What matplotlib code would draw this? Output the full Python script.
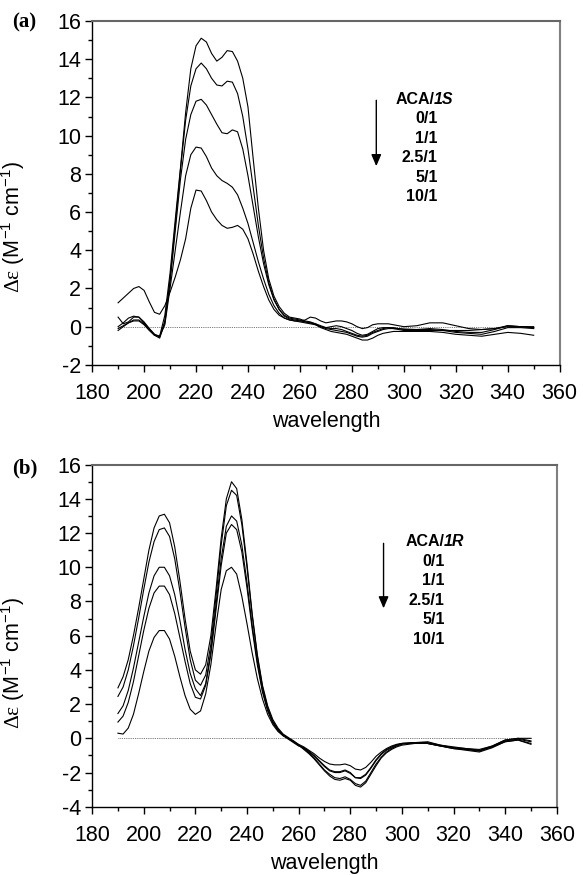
import matplotlib
matplotlib.use("Agg")
import matplotlib.pyplot as plt
from matplotlib.ticker import MultipleLocator

plt.rcParams['font.family'] = ['Liberation Sans', 'DejaVu Sans']
plt.rcParams['mathtext.fontset'] = 'custom'
plt.rcParams['mathtext.rm'] = 'Liberation Serif'
plt.rcParams['mathtext.sf'] = 'Liberation Sans'
plt.rcParams['axes.unicode_minus'] = False

DPI = 100

# ------ data ----------------------------------------------------------------

wavelength = [190, 192, 194, 196, 198, 200, 202, 204, 206, 208,
              210, 212, 214, 216, 218, 220, 222, 224, 226, 228,
              230, 232, 234, 236, 238, 240, 242, 244, 246, 248,
              250, 252, 254, 256, 258, 260, 262, 264, 266, 268,
              270, 272, 274, 276, 278, 280, 282, 284, 286, 288,
              290, 292, 294, 296, 298, 300,
              305, 310, 315, 320, 325, 330, 335, 340, 345, 350]

ratios = ['0/1', '1/1', '2.5/1', '5/1', '10/1']

# panel (a): ACA/1S
s_0 = [0.5, 0.15, 0.25, 0.5, 0.5, 0.2, -0.1, -0.4, -0.5, 0.6,
       2.8, 5.6, 8.3, 11.2, 13.5, 14.7, 15.1, 14.9, 14.3, 13.9,
       14.1, 14.45, 14.4, 13.9, 13.0, 11.5, 8.8, 6.2, 4.0, 2.5,
       1.6, 1.05, 0.7, 0.5, 0.45, 0.4, 0.3, 0.25, 0.15, 0.0,
       -0.1, -0.15, -0.2, -0.25, -0.3, -0.4, -0.5, -0.55, -0.5, -0.35,
       -0.25, -0.15, -0.1, -0.1, -0.1, -0.12,
       -0.15, -0.15, -0.2, -0.3, -0.35, -0.4, -0.25, -0.05, -0.05, -0.1]
s_1 = [0.0, 0.2, 0.45, 0.55, 0.5, 0.25, -0.1, -0.4, -0.55, 0.3,
       2.5, 5.3, 8.2, 10.8, 12.6, 13.5, 13.8, 13.5, 13.0, 12.65,
       12.6, 12.85, 12.8, 12.2, 11.0, 9.3, 7.3, 5.3, 3.6, 2.3,
       1.45, 0.9, 0.6, 0.45, 0.4, 0.35, 0.25, 0.2, 0.1, -0.05,
       -0.15, -0.25, -0.3, -0.35, -0.4, -0.5, -0.6, -0.7, -0.7, -0.6,
       -0.45, -0.35, -0.3, -0.25, -0.25, -0.25,
       -0.25, -0.25, -0.3, -0.4, -0.45, -0.5, -0.4, -0.3, -0.35, -0.45]
s_25 = [-0.2, 0.0, 0.2, 0.35, 0.35, 0.15, -0.15, -0.45, -0.6, 0.2,
        2.3, 5.0, 7.7, 9.8, 11.1, 11.8, 11.9, 11.6, 11.1, 10.6,
        10.15, 10.1, 10.3, 10.2, 9.3, 7.9, 6.3, 4.7, 3.3, 2.2,
        1.4, 0.9, 0.55, 0.4, 0.35, 0.3, 0.25, 0.2, 0.15, 0.05,
        -0.05, -0.1, -0.1, -0.15, -0.25, -0.35, -0.45, -0.5, -0.45, -0.3,
        -0.2, -0.1, -0.05, -0.05, -0.1, -0.15,
        -0.15, -0.1, -0.15, -0.25, -0.3, -0.3, -0.15, 0.05, 0.0, -0.05]
s_5 = [-0.1, 0.05, 0.2, 0.3, 0.3, 0.1, -0.2, -0.45, -0.5, 0.1,
       2.0, 4.0, 6.0, 7.9, 9.0, 9.4, 9.35, 8.9, 8.3, 7.9,
       7.65, 7.5, 7.3, 6.9, 6.2, 5.4, 4.4, 3.4, 2.5, 1.7,
       1.1, 0.7, 0.45, 0.35, 0.3, 0.25, 0.2, 0.15, 0.1, 0.0,
       -0.05, 0.0, 0.05, 0.0, -0.1, -0.2, -0.35, -0.45, -0.4, -0.25,
       -0.1, -0.05, -0.05, -0.1, -0.15, -0.2,
       -0.2, -0.2, -0.2, -0.2, -0.2, -0.15, -0.1, 0.0, 0.0, 0.0]
s_10 = [1.25, 1.5, 1.75, 2.0, 2.1, 1.9, 1.3, 0.75, 0.65, 1.1,
        1.8, 2.6, 3.5, 4.6, 6.2, 7.15, 7.1, 6.6, 6.0, 5.6,
        5.3, 5.15, 5.2, 5.3, 5.1, 4.6, 3.8, 2.9, 2.1, 1.4,
        0.9, 0.6, 0.45, 0.35, 0.3, 0.3, 0.35, 0.5, 0.45, 0.3,
        0.2, 0.25, 0.3, 0.3, 0.25, 0.15, 0.0, -0.1, -0.05, 0.1,
        0.15, 0.15, 0.15, 0.1, 0.05, 0.0,
        0.05, 0.2, 0.2, 0.05, -0.1, -0.15, -0.1, 0.05, 0.0, -0.05]

# panel (b): ACA/1R
r_0 = [2.95, 3.6, 4.6, 6.0, 7.6, 9.3, 11.0, 12.3, 13.0, 13.1,
       12.6, 11.2, 9.2, 7.0, 5.1, 4.0, 3.75, 4.3, 6.0, 8.7,
       11.7, 14.0, 15.0, 14.6, 12.8, 10.2, 7.3, 4.9, 3.1, 1.9,
       1.1, 0.6, 0.25, 0.05, -0.15, -0.4, -0.65, -0.9, -1.2, -1.55,
       -1.9, -2.2, -2.4, -2.45, -2.35, -2.45, -2.75, -2.85, -2.6, -2.1,
       -1.6, -1.15, -0.85, -0.65, -0.5, -0.4,
       -0.3, -0.3, -0.45, -0.6, -0.7, -0.8, -0.55, -0.2, -0.1, -0.3]
r_1 = [2.45, 3.0, 4.0, 5.4, 7.0, 8.7, 10.3, 11.5, 12.2, 12.3,
       11.8, 10.5, 8.6, 6.5, 4.6, 3.4, 3.1, 3.7, 5.5, 8.3,
       11.3, 13.6, 14.5, 14.2, 12.5, 10.0, 7.2, 4.8, 3.0, 1.8,
       1.0, 0.55, 0.2, 0.0, -0.2, -0.4, -0.6, -0.85, -1.15, -1.5,
       -1.85, -2.1, -2.3, -2.35, -2.25, -2.4, -2.65, -2.75, -2.5, -2.0,
       -1.5, -1.1, -0.8, -0.6, -0.45, -0.35,
       -0.25, -0.3, -0.45, -0.55, -0.65, -0.75, -0.5, -0.15, -0.05, -0.2]
r_25 = [1.45, 1.9, 2.8, 4.1, 5.6, 7.1, 8.5, 9.5, 10.0, 10.0,
        9.5, 8.4, 6.9, 5.2, 3.8, 2.9, 2.5, 3.2, 5.1, 7.8,
        10.5, 12.4, 13.0, 12.7, 11.3, 9.1, 6.6, 4.5, 2.8, 1.7,
        0.95, 0.5, 0.2, 0.0, -0.2, -0.4, -0.55, -0.75, -1.0, -1.3,
        -1.6, -1.85, -1.95, -1.95, -1.85, -2.0, -2.3, -2.35, -2.15, -1.75,
        -1.3, -0.95, -0.7, -0.55, -0.4, -0.3,
        -0.25, -0.25, -0.4, -0.55, -0.6, -0.7, -0.45, -0.1, 0.0, -0.15]
r_5 = [0.95, 1.3, 2.1, 3.3, 4.8, 6.3, 7.6, 8.5, 8.9, 8.9,
       8.4, 7.3, 5.9, 4.5, 3.2, 2.4, 2.3, 3.1, 4.9, 7.5,
       10.1, 12.0, 12.5, 12.2, 10.9, 8.8, 6.4, 4.3, 2.7, 1.6,
       0.9, 0.45, 0.15, -0.05, -0.25, -0.45, -0.55, -0.8, -1.05, -1.35,
       -1.65, -1.9, -2.0, -2.0, -1.9, -2.05, -2.3, -2.3, -2.1, -1.7,
       -1.25, -0.9, -0.65, -0.5, -0.38, -0.3,
       -0.28, -0.3, -0.45, -0.6, -0.65, -0.72, -0.5, -0.2, -0.1, -0.35]
r_10 = [0.3, 0.25, 0.6, 1.4, 2.6, 3.9, 5.1, 5.9, 6.3, 6.3,
        5.8, 4.8, 3.6, 2.5, 1.7, 1.4, 1.6, 2.6, 4.3, 6.6,
        8.7, 9.8, 10.0, 9.6, 8.3, 6.7, 5.0, 3.5, 2.3, 1.4,
        0.8, 0.4, 0.15, 0.0, -0.15, -0.35, -0.5, -0.7, -0.9, -1.15,
        -1.35, -1.5, -1.55, -1.55, -1.5, -1.6, -1.8, -1.85, -1.7, -1.4,
        -1.05, -0.8, -0.6, -0.45, -0.35, -0.3,
        -0.25, -0.2, -0.4, -0.5, -0.6, -0.65, -0.45, -0.1, 0.0, 0.0]

curves_s = [s_0, s_1, s_25, s_5, s_10]
curves_r = [r_0, r_1, r_25, r_5, r_10]


def style_axes(ax, ymin, ymax):
    ax.set_xlim(180, 360)
    ax.set_ylim(ymin, ymax)
    ax.xaxis.set_major_locator(MultipleLocator(20))
    ax.xaxis.set_minor_locator(MultipleLocator(10))
    ax.yaxis.set_major_locator(MultipleLocator(2))
    ax.yaxis.set_minor_locator(MultipleLocator(1))
    ax.tick_params(which='both', direction='out', top=False, right=False,
                   width=1.0, labelsize=15.5)
    ax.tick_params(axis='y', pad=3)
    ax.tick_params(axis='x', pad=8)
    ax.tick_params(which='major', length=5)
    ax.tick_params(which='minor', length=3)
    ax.spines['left'].set_linewidth(1.0)
    ax.spines['bottom'].set_linewidth(1.0)
    ax.spines['top'].set_color('0.4')
    ax.spines['right'].set_color('0.5')
    ax.spines['top'].set_linewidth(1.5)
    ax.spines['right'].set_linewidth(1.5)
    ax.set_xlabel("wavelength", fontsize=15.5, labelpad=5)
    ax.set_ylabel(r"$\mathrm{\Delta\varepsilon}$ (M$^{\mathsf{-1}}$ cm$^{\mathsf{-1}}$)",
                  fontsize=15.5)


def draw_panel(ax, curves, name, tx, ty, split_x, arrow_x, arrow_y0, arrow_y1, step):
    # dotted zero line
    ax.plot([190, 350], [0, 0], color='0.3', lw=0.6, linestyle=(0, (1, 1.2)))
    for c in curves:
        ax.plot(wavelength, c, color='k', lw=0.8)
    ax.text(split_x, ty, 'ACA/', ha='right', va='center',
            fontsize=11.5, fontweight='bold')
    ax.text(split_x, ty, name, ha='left', va='center',
            fontsize=11.5, fontweight='bold', style='italic')
    for i, lab in enumerate(ratios):
        ax.text(tx, ty - (i + 1) * step, lab, ha='right', va='center',
                fontsize=11.5, fontweight='bold')
    ax.annotate('', xy=(arrow_x, arrow_y1), xytext=(arrow_x, arrow_y0),
                arrowprops=dict(arrowstyle='-|>,head_length=0.7,head_width=0.3',
                                lw=1.0, color='k', shrinkA=0, shrinkB=0))


fig = plt.figure(figsize=(583 / DPI, 875 / DPI), dpi=DPI)

# ------ panel (a) -----------------------------------------------------------

ax_a = fig.add_axes([0.158, 0.583, 0.802, 0.393])
style_axes(ax_a, -2, 16)
ax_a.yaxis.set_label_coords(-0.14, 0.40)
draw_panel(ax_a, curves_s, '1S', 313, 11.9, 311.7, 289.4, 11.85, 8.4, 1.02)
fig.text(0.02, 0.974, '(a)', family='Liberation Serif', fontweight='bold',
         fontsize=15, va='center', ha='left')

# ------ panel (b) -----------------------------------------------------------

ax_b = fig.add_axes([0.158, 0.078, 0.797, 0.391])
style_axes(ax_b, -4, 16)
ax_b.yaxis.set_label_coords(-0.14, 0.42)
draw_panel(ax_b, curves_r, '1R', 316.6, 11.5, 316.4, 292.9, 11.4, 7.6, 1.14)
fig.text(0.02, 0.465, '(b)', family='Liberation Serif', fontweight='bold',
         fontsize=15, va='center', ha='left')

fig.savefig('out.png', dpi=DPI)
